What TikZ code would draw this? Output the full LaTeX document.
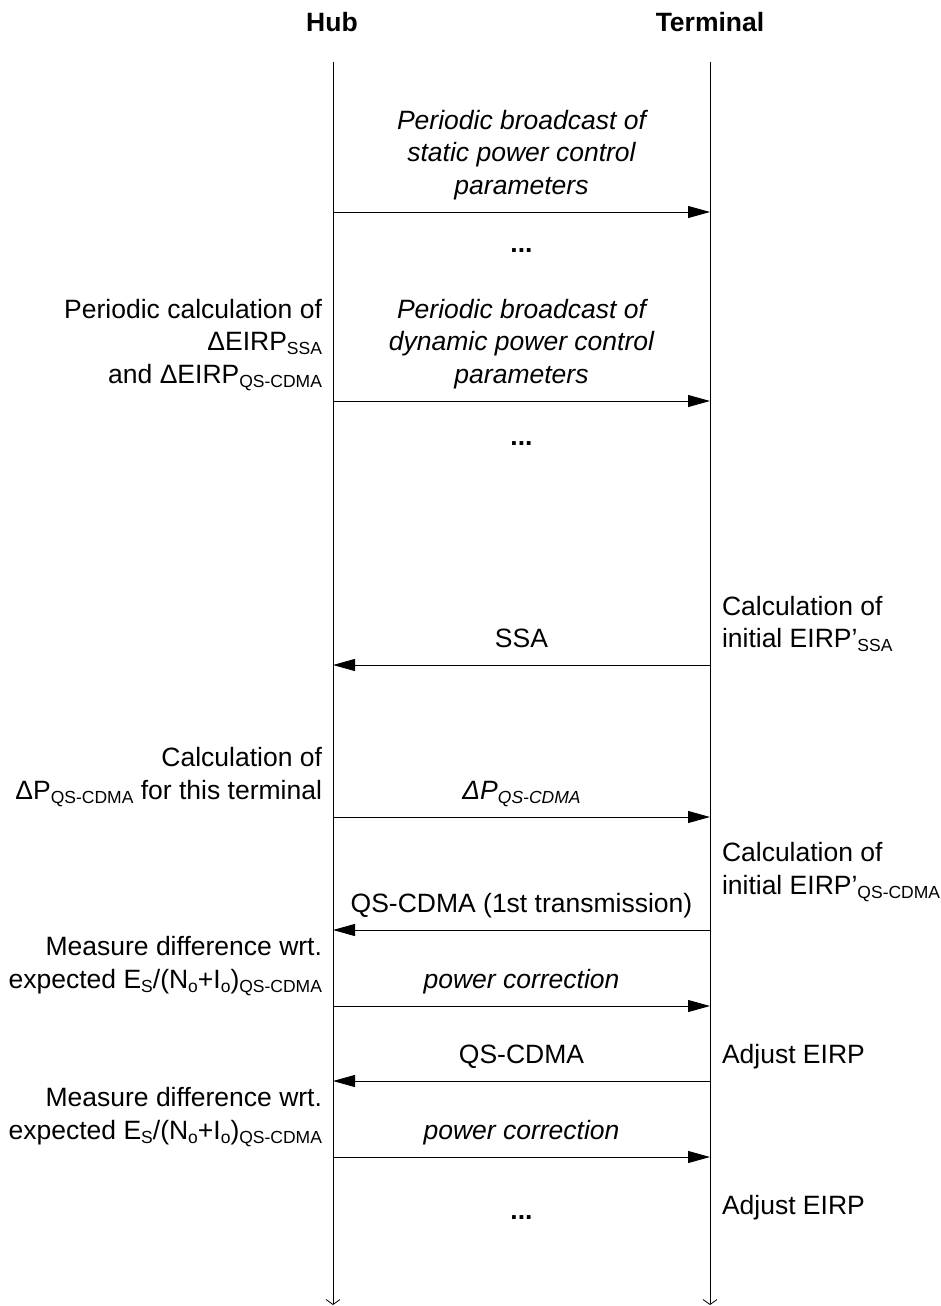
\documentclass[tikz,border=0pt]{standalone}
\usepackage{fontspec}
\setmainfont{Liberation Sans}
\usetikzlibrary{arrows.meta}
\newcommand{\subx}[1]{\raisebox{-4pt}{\fontsize{17.5}{17.5}\selectfont #1}}
\begin{document}
\begin{tikzpicture}[x=1pt,y=-1pt,
  font=\fontsize{26.5}{32.5}\selectfont,
  every node/.style={inner sep=0pt,outer sep=0pt},
  head/.style={anchor=base,font=\fontsize{26.5}{32.5}\selectfont\bfseries},
  lbl/.style={anchor=base},
  dts/.style={anchor=base,font=\fontsize{26.5}{32.5}\selectfont\bfseries},
  ilbl/.style={anchor=base,font=\fontsize{26.5}{32.5}\selectfont\itshape},
  lft/.style={anchor=base east},
  rgt/.style={anchor=base west},
  life/.style={draw=black,line width=1pt,-{Straight Barb[length=5pt,width=14pt,line width=0.8pt]}},
  msg/.style={draw=black,line width=1pt,-{Triangle[length=22pt,width=12pt]}}]
\useasboundingbox[fill=white] (0,0) rectangle (941,1306);

% headers
\node[head] (hub) at (332,32) {Hub};
\node[head] (term) at (710,32) {Terminal};

% lifelines
\coordinate (hubtop) at (333,62);
\coordinate (hubbot) at (333,1305);
\coordinate (termtop) at (710,62);
\coordinate (termbot) at (710,1305);
\draw[life] (hubtop) -- (hubbot);
\draw[life] (termtop) -- (termbot);

% message 1
\coordinate (h1) at (333,212); \coordinate (t1) at (710,212);
\draw[msg] (h1) -- (t1);
\node[ilbl] (m1a) at (521.5,129) {Periodic broadcast of};
\node[ilbl] (m1b) at (521.5,161.5) {static power control};
\node[ilbl] (m1c) at (521.5,194) {parameters};
\node[dts] (dots1) at (521.5,252) {...};

% message 2
\coordinate (h2) at (333,401); \coordinate (t2) at (710,401);
\draw[msg] (h2) -- (t2);
\node[ilbl] (m2a) at (521.5,318) {Periodic broadcast of};
\node[ilbl] (m2b) at (521.5,350.5) {dynamic power control};
\node[ilbl] (m2c) at (521.5,383) {parameters};
\node[lft] (l2a) at (322,318) {Periodic calculation of};
\node[lft] (l2b) at (322,350.5) {ΔEIRP\subx{SSA}};
\node[lft] (l2c) at (322,383) {and ΔEIRP\subx{QS-CDMA}};
\node[dts] (dots2) at (521.5,445) {...};

% message 3
\coordinate (h3) at (333,665); \coordinate (t3) at (710,665);
\draw[msg] (t3) -- (h3);
\node[lbl] (m3) at (521.5,647) {SSA};
\node[rgt] (r3a) at (722,615) {Calculation of};
\node[rgt] (r3b) at (722,647) {initial EIRP’\subx{SSA}};

% message 4
\coordinate (h4) at (333,817); \coordinate (t4) at (710,817);
\draw[msg] (h4) -- (t4);
\node[ilbl] (m4) at (521.5,799) {ΔP\subx{QS-CDMA}};
\node[lft] (l4a) at (322,766.5) {Calculation of};
\node[lft] (l4b) at (322,799) {ΔP\subx{QS-CDMA} for this terminal};

% message 5
\node[rgt] (r5a) at (722,861) {Calculation of};
\node[rgt] (r5b) at (722,894) {initial EIRP’\subx{QS-CDMA}};
\coordinate (h5) at (333,930); \coordinate (t5) at (710,930);
\draw[msg] (t5) -- (h5);
\node[lbl] (m5) at (521.5,912) {QS-CDMA (1st transmission)};

% message 6
\coordinate (h6) at (333,1006); \coordinate (t6) at (710,1006);
\draw[msg] (h6) -- (t6);
\node[ilbl] (m6) at (521.5,988) {power correction};
\node[lft] (l6a) at (322,955.5) {Measure difference wrt.};
\node[lft] (l6b) at (322,988) {expected E\subx{S}/(N\subx{o}+I\subx{o})\subx{QS-CDMA}};

% message 7
\coordinate (h7) at (333,1081); \coordinate (t7) at (710,1081);
\draw[msg] (t7) -- (h7);
\node[lbl] (m7) at (521.5,1063) {QS-CDMA};
\node[rgt] (r7) at (722,1063) {Adjust EIRP};

% message 8
\coordinate (h8) at (333,1157); \coordinate (t8) at (710,1157);
\draw[msg] (h8) -- (t8);
\node[ilbl] (m8) at (521.5,1139) {power correction};
\node[lft] (l8a) at (322,1106.5) {Measure difference wrt.};
\node[lft] (l8b) at (322,1139) {expected E\subx{S}/(N\subx{o}+I\subx{o})\subx{QS-CDMA}};

\node[dts] (dots3) at (521.5,1219) {...};
\node[rgt] (r9) at (722,1214) {Adjust EIRP};
\end{tikzpicture}
\end{document}
